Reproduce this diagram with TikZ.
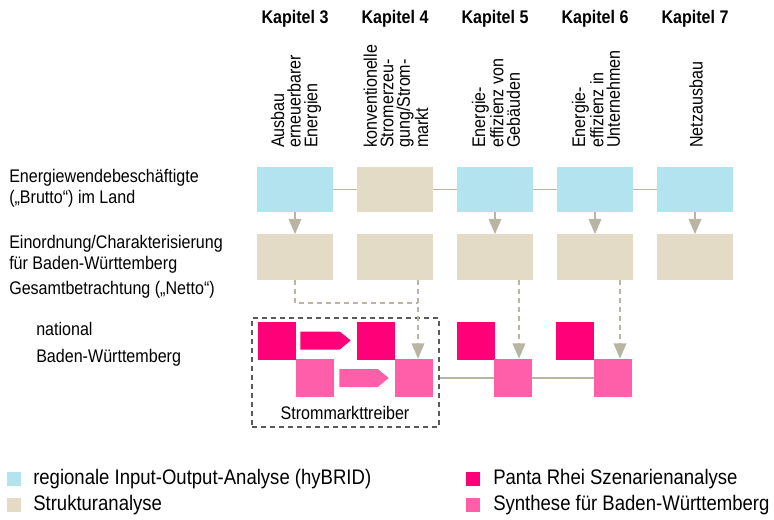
\documentclass[tikz,border=0pt]{standalone}
\usepackage{fontspec}
\setmainfont{Liberation Sans}[FakeStretch=0.88]
\usetikzlibrary{arrows.meta,calc}

\definecolor{ioblue}{RGB}{179,227,238}
\definecolor{strukturtan}{RGB}{227,219,198}
\definecolor{pantamag}{RGB}{255,0,120}
\definecolor{synthpink}{RGB}{255,95,168}
\definecolor{linegray}{RGB}{184,181,163}
\definecolor{framegray}{RGB}{90,90,90}

\tikzset{
  rowbox/.style={minimum width=57pt, minimum height=33.75pt, inner sep=0pt},
  sqbox/.style={minimum size=28.5pt, inner sep=0pt},
  legsq/.style={minimum size=10.5pt, inner sep=0pt},
  lbl/.style={anchor=west, inner sep=0pt, align=left, font=\fontsize{13.7}{15.75}\selectfont},
  leglbl/.style={anchor=west, inner sep=0pt, font=\fontsize{15.8}{18}\selectfont},
  kap/.style={inner sep=0pt, font=\fontsize{13.7}{15}\selectfont\bfseries},
  vlbl/.style={rotate=90, anchor=west, inner sep=0pt, align=left, font=\fontsize{13.7}{12.4}\selectfont},
  flow/.style={draw=linegray, line width=1.1pt, -{Triangle[length=11.5pt,width=9.5pt]}},
  dflow/.style={flow, dash pattern=on 3.75pt off 3pt},
  dlin/.style={draw=linegray, line width=1.1pt, dash pattern=on 3.75pt off 3pt},
}

\begin{document}
\begin{tikzpicture}[x=0.75pt,y=0.75pt,yscale=-1,xscale=1]
\useasboundingbox (0,0) rectangle (774,520);

% Text Node
\node[kap] (k3) at (295,19) {Kapitel 3};
\node[kap] (k4) at (395,19) {Kapitel 4};
\node[kap] (k5) at (495,19) {Kapitel 5};
\node[kap] (k6) at (595,19) {Kapitel 6};
\node[kap] (k7) at (695,19) {Kapitel 7};

% Text Node
\node[vlbl] (v3) at (296,148) {Ausbau\\erneuerbarer\\Energien};
\node[vlbl] (v4) at (396,148) {konventionelle\\Stromerzeu-\\gung/Strom-\\markt};
\node[vlbl] (v5) at (496,148) {Energie-\\effizienz von\\Gebäuden};
\node[vlbl] (v6) at (596,148) {Energie-\\effizienz in\\Unternehmen};
\node[vlbl] (v7) at (696,148) {Netzausbau};

% Text Node
\node[lbl] (r1) at (9,188) {Energiewendebeschäftigte\\(„Brutto“) im Land};
\node[lbl] (r2) at (9,254) {Einordnung/Charakterisierung\\für Baden-Württemberg};
\node[lbl] (r3) at (9,290) {Gesamtbetrachtung („Netto“)};
\node[lbl] (r4) at (36,329) {national};
\node[lbl] (r5) at (36,358) {Baden-Württemberg};

%Shape: Rectangle
\node[rowbox, fill=ioblue] (b3) at (295,189.5) {};
\node[rowbox, fill=strukturtan] (b4) at (395,189.5) {};
\node[rowbox, fill=ioblue] (b5) at (495,189.5) {};
\node[rowbox, fill=ioblue] (b6) at (595,189.5) {};
\node[rowbox, fill=ioblue] (b7) at (695,189.5) {};
%Straight Lines
\draw[linegray, line width=1pt] (b3) -- (b4) -- (b5) -- (b6) -- (b7);

%Shape: Rectangle
\node[rowbox, fill=strukturtan] (e3) at (295,257) {};
\node[rowbox, fill=strukturtan] (e4) at (395,257) {};
\node[rowbox, fill=strukturtan] (e5) at (495,257) {};
\node[rowbox, fill=strukturtan] (e6) at (595,257) {};
\node[rowbox, fill=strukturtan] (e7) at (695,257) {};

%Straight Lines
\draw[flow] (b3) -- (e3);
\draw[flow] (b5) -- (e5);
\draw[flow] (b6) -- (e6);
\draw[flow] (b7) -- (e7);

%Shape: Square
\node[sqbox, fill=pantamag] (m3) at (277,340.5) {};
\node[sqbox, fill=pantamag] (m4) at (376,340.5) {};
\node[sqbox, fill=pantamag] (m5) at (476,340.5) {};
\node[sqbox, fill=pantamag] (m6) at (575,340.5) {};
\node[sqbox, fill=synthpink] (p3) at (315,378) {};
\node[sqbox, fill=synthpink] (p4) at (414,378) {};
\node[sqbox, fill=synthpink] (p5) at (513,378) {};
\node[sqbox, fill=synthpink] (p6) at (613,378) {};

%Shape: Dashed frame
\node[draw=framegray, line width=0.9pt, dash pattern=on 3.75pt off 3pt, minimum width=140.25pt, minimum height=81.75pt, inner sep=0pt] (grp) at (345.5,372.5) {};
% Text Node
\node[inner sep=0pt, font=\fontsize{13.7}{15}\selectfont] (grplbl) at (345,413) {Strommarkttreiber};

%Straight Lines
\draw[linegray, line width=1pt] (grp.east |- p4) -- (p5) -- (p6);

%Dashed Lines
\coordinate (j4) at (418,303);
\coordinate (d5) at ([xshift=4.5pt]p5.north);
\coordinate (d6) at ([xshift=5.25pt]p6.north);
\draw[dlin] (e3.south) |- (j4);
\draw[dflow] (e4.south -| j4) -- (j4 |- p4.north);
\draw[dflow] (e5.south -| d5) -- (d5);
\draw[dflow] (e6.south -| d6) -- (d6);

%Shape: Block arrows
\fill[pantamag] ($(m3.east)+(4,9)$) -- ($(m4.west)+(-17,9)$) -- ($(m4.west)+(-6,0)$) -- ($(m4.west)+(-17,-9)$) -- ($(m3.east)+(4,-9)$) -- cycle;
\fill[synthpink] ($(p3.east)+(5,9)$) -- ($(p4.west)+(-17,9)$) -- ($(p4.west)+(-6,0)$) -- ($(p4.west)+(-17,-9)$) -- ($(p3.east)+(5,-9)$) -- cycle;

% Legend
\node[legsq, fill=ioblue] (lg1) at (14,479) {};
\node[legsq, fill=strukturtan] (lg2) at (14,505) {};
\node[legsq, fill=pantamag] (lg3) at (473,479) {};
\node[legsq, fill=synthpink] (lg4) at (473,505) {};
\node[leglbl] (lt1) at (33,479) {regionale Input-Output-Analyse (hyBRID)};
\node[leglbl] (lt2) at (33,505) {Strukturanalyse};
\node[leglbl] (lt3) at (493,479) {Panta Rhei Szenarienanalyse};
\node[leglbl] (lt4) at (493,505) {Synthese für Baden-Württemberg};

\end{tikzpicture}
\end{document}
